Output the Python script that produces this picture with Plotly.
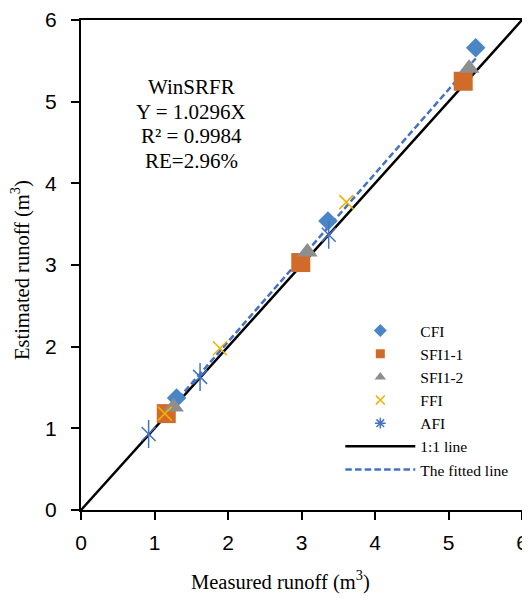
import plotly.graph_objects as go

cfi_x = [1.30, 3.36, 5.37]
cfi_y = [1.37, 3.54, 5.66]
sfi11_x = [1.16, 2.99, 5.20]
sfi11_y = [1.18, 3.03, 5.25]
sfi12_x = [1.26, 3.08, 5.28]
sfi12_y = [1.26, 3.16, 5.41]
ffi_x = [1.14, 1.89, 3.61]
ffi_y = [1.18, 1.98, 3.77]
afi_x = [0.92, 1.62, 3.37]
afi_y = [0.93, 1.63, 3.37]
one_x = [0, 6]
one_y = [0, 6]
slope = 1.0296
fit_x = [1.15, 5.37]
fit_y = [slope * v for v in fit_x]
note_lines = ["WinSRFR", "Y = 1.0296X", "R² = 0.9984", "RE=2.96%"]
x_title = "Measured runoff (m<sup>3</sup>)"
y_title = "Estimated runoff (m<sup>3</sup>)"

serif = "Liberation Serif"
sans = "Liberation Sans"

C_CFI = "#4A86C6"
C_SFI11 = "#D16B2A"
C_SFI12 = "#8E8E8E"
C_FFI = "#EFB000"
C_AFI = "#4472C4"
FIT_DASH = "6.5px,3.2px"

fig = go.Figure()
fig.add_trace(go.Scatter(x=one_x, y=one_y, mode="lines", showlegend=False,
                         line=dict(color="black", width=2.5)))
fig.add_trace(go.Scatter(x=fit_x, y=fit_y, mode="lines", showlegend=False,
                         line=dict(color=C_AFI, width=2.5, dash=FIT_DASH)))
fig.add_trace(go.Scatter(x=cfi_x, y=cfi_y, mode="markers", showlegend=False,
                         marker=dict(symbol="diamond", size=15, color=C_CFI)))
fig.add_trace(go.Scatter(x=sfi11_x, y=sfi11_y, mode="markers", showlegend=False,
                         marker=dict(symbol="square", size=19, color=C_SFI11)))
fig.add_trace(go.Scatter(x=sfi12_x, y=sfi12_y, mode="markers", showlegend=False,
                         marker=dict(symbol="triangle-up", size=18, color=C_SFI12)))
fig.add_trace(go.Scatter(x=ffi_x, y=ffi_y, mode="markers", showlegend=False,
                         marker=dict(symbol="x-thin-open", size=14, color=C_FFI,
                                     line=dict(color=C_FFI, width=1.5))))
fig.add_trace(go.Scatter(x=afi_x, y=afi_y, mode="markers", showlegend=False,
                         marker=dict(symbol="x-thin-open", size=14, color=C_AFI,
                                     line=dict(color=C_AFI, width=1.5))))
fig.add_trace(go.Scatter(x=afi_x, y=afi_y, mode="markers", showlegend=False,
                         marker=dict(symbol="line-ns-open", size=20, color=C_AFI,
                                     line=dict(color=C_AFI, width=1.5))))

# legend entries
leg = [
    ("CFI", dict(mode="markers", marker=dict(symbol="diamond", size=10, color=C_CFI))),
    ("SFI1-1", dict(mode="markers", marker=dict(symbol="square", size=9, color=C_SFI11))),
    ("SFI1-2", dict(mode="markers", marker=dict(symbol="triangle-up", size=10, color=C_SFI12))),
    ("FFI", dict(mode="markers", marker=dict(symbol="x-thin-open", size=9, color=C_FFI,
                                              line=dict(color=C_FFI, width=1.5)))),
    ("AFI", dict(mode="markers", marker=dict(symbol="asterisk-open", size=9, color=C_AFI,
                                              line=dict(color=C_AFI, width=1.5)))),
    ("1:1 line", dict(mode="lines", line=dict(color="black", width=2.5))),
    ("The fitted line", dict(mode="lines", line=dict(color=C_AFI, width=2.5, dash=FIT_DASH))),
]
for i, (nm, kw) in enumerate(leg):
    fig.add_trace(go.Scatter(x=[None], y=[None], name=nm, legendgroup=str(i), **kw))

axis_common = dict(range=[0, 6], dtick=1, ticks="outside", ticklen=8, tickwidth=1.5,
                   tickcolor="black", showline=True, linecolor="black", linewidth=2,
                   mirror=True, showgrid=False, zeroline=False, automargin=False,
                   tickfont=dict(family=sans, size=21, color="black"))

note_y = [87, 112, 136, 161]
annotations = []
for txt, py in zip(note_lines, note_y):
    annotations.append(dict(x=0.25, y=(510 - py) / 490, xref="paper", yref="paper",
                            showarrow=False, text=txt, xanchor="center", yanchor="middle",
                            font=dict(family=serif, size=21, color="black")))
annotations.append(dict(x=0.4525, y=-0.143, xref="paper", yref="paper", showarrow=False,
                        text=x_title, xanchor="center", yanchor="middle",
                        font=dict(family=serif, size=20.5, color="black")))
annotations.append(dict(x=-0.1357, y=0.49, xref="paper", yref="paper", showarrow=False,
                        text=y_title, textangle=-90, xanchor="center", yanchor="middle",
                        font=dict(family=serif, size=20.5, color="black")))

fig.update_layout(
    width=530, height=599,
    margin=dict(l=73, r=16, t=12, b=97),
    plot_bgcolor="white", paper_bgcolor="white",
    xaxis=dict(**axis_common, ticklabelstandoff=5),
    yaxis=dict(**axis_common, ticklabelstandoff=10),
    legend=dict(x=0.588, y=0.40, xanchor="left", yanchor="top",
                bgcolor="rgba(0,0,0,0)", font=dict(family=serif, size=15.5, color="black"),
                itemwidth=70, traceorder="grouped", tracegroupgap=0),
    annotations=annotations,
)

fig.write_html("out.html")
